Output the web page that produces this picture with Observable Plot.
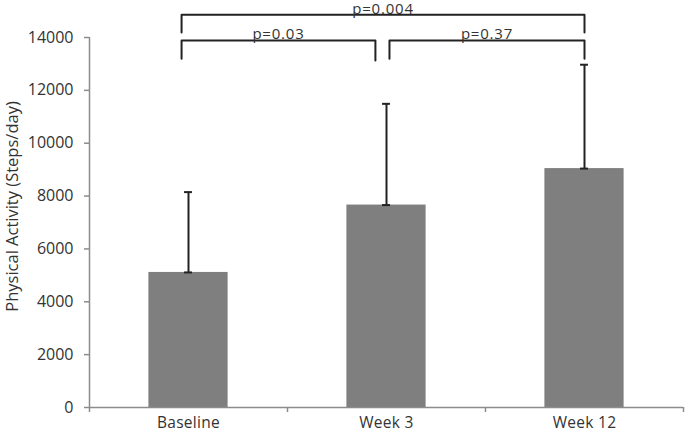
<!DOCTYPE html>
<html>
<head>
<meta charset="utf-8">
<script src="https://cdn.jsdelivr.net/npm/d3@7"></script>
<script src="https://cdn.jsdelivr.net/npm/@observablehq/plot@0.6"></script>
<style>
  html, body { margin: 0; padding: 0; background: #fff; }
  #chart svg { display: block; }
  #chart svg text { font-family: 'Open Sans', sans-serif; font-size: 16px; }
  #chart svg .xlabels text { font-size: 15.5px; letter-spacing: 0.3px; }
  #chart svg .ylabel text { font-size: 16.5px; }
  #chart svg .plabel text { font-size: 15px; letter-spacing: 0.8px; }
</style>
</head>
<body>
<div id="chart"></div>
<script>
// ---- data ----
const categories = ["Baseline", "Week 3", "Week 12"];
const means = [5110, 7660, 9040];
const upperErrors = [3040, 3830, 3930];
const yTicks = [0, 2000, 4000, 6000, 8000, 10000, 12000, 14000];
const yLabel = "Physical Activity (Steps/day)";
const bracketLabels = ["p=0.03", "p=0.37", "p=0.004"];
const bracketX1 = [0.465, 1.515, 0.465];
const bracketX2 = [1.444, 2.5, 2.5];
const bracketTop = [13890, 13890, 14860];
const bracketLeftEnd = [13200, 13200, 14190];
const bracketRightEnd = [13130, 13200, 14190];

// ---- derived tables ----
const bars = categories.map((c, i) => ({
  cat: c, pos: i + 0.5, mean: means[i], top: means[i] + upperErrors[i]
}));
const barHalf = 0.2;   // bar width = 0.4 of category (Excel gap 150%)
const capHalf = 0.02;

const bracketPts = [];
bracketLabels.forEach((lab, i) => {
  bracketPts.push({ id: i, x: bracketX1[i], y: bracketLeftEnd[i] });
  bracketPts.push({ id: i, x: bracketX1[i], y: bracketTop[i] });
  bracketPts.push({ id: i, x: bracketX2[i], y: bracketTop[i] });
  bracketPts.push({ id: i, x: bracketX2[i], y: bracketRightEnd[i] });
});
const bracketText = bracketLabels.map((lab, i) => ({
  label: lab, x: (bracketX1[i] + bracketX2[i]) / 2, y: bracketTop[i]
}));

const axisGray = "#8c8c8c";
const textColor = "#333333";
const font = "'Open Sans', sans-serif";

const chart = Plot.plot({
  width: 685,
  height: 433,
  marginLeft: 89,
  marginRight: 2,
  marginTop: 37,
  marginBottom: 26,
  style: { fontFamily: font, fontSize: "16px", color: textColor, background: "#fff", overflow: "visible" },
  x: { type: "linear", domain: [0, 3], axis: null },
  y: { domain: [0, 14000], axis: null },
  marks: [
    // bars
    Plot.rectY(bars, { x1: d => d.pos - barHalf, x2: d => d.pos + barHalf, y1: 0, y2: "mean", fill: "#7f7f7f" }),
    // error bars (upper only)
    Plot.ruleX(bars, { x: "pos", y1: "mean", y2: "top", stroke: "#222", strokeWidth: 2 }),
    Plot.ruleY(bars, { y: "top", x1: d => d.pos - capHalf, x2: d => d.pos + capHalf, stroke: "#222", strokeWidth: 2 }),
    Plot.ruleY(bars, { y: "mean", x1: d => d.pos - capHalf, x2: d => d.pos + capHalf, stroke: "#222", strokeWidth: 2 }),
    // y axis
    Plot.ruleX([0], { y1: 0, y2: 14000, stroke: axisGray, strokeWidth: 1.5 }),
    Plot.axisY(yTicks, {
      ticks: yTicks, tickSize: 5, tickPadding: 11, stroke: axisGray, strokeWidth: 1.5,
      fill: textColor, tickFormat: d => String(d), label: null
    }),
    Plot.text([yLabel], { text: d => d, frameAnchor: "left", textAnchor: "middle", rotate: -90, dx: -77, dy: -16, fill: textColor, className: "ylabel" }),
    // x axis
    Plot.ruleY([0], { x1: 0, x2: 3, stroke: axisGray, strokeWidth: 1.5 }),
    Plot.axisX([0, 1, 2, 3], { ticks: [0, 1, 2, 3], tickSize: 5, tickFormat: () => "", stroke: axisGray, strokeWidth: 1.5, label: null }),
    Plot.axisX(bars.map(d => d.pos), {
      ticks: bars.map(d => d.pos), tickSize: 0, tickPadding: 9,
      tickFormat: (d, i) => categories[i], fill: textColor, label: null, className: "xlabels"
    }),
    // significance brackets
    Plot.line(bracketPts, { x: "x", y: "y", z: "id", stroke: "#222", strokeWidth: 2, curve: "linear" }),
    Plot.text(bracketText, { x: "x", y: "y", text: "label", lineAnchor: "bottom", dy: -1, fill: textColor, className: "plabel" })
  ]
});
document.getElementById("chart").appendChild(chart);
</script>
</body>
</html>
